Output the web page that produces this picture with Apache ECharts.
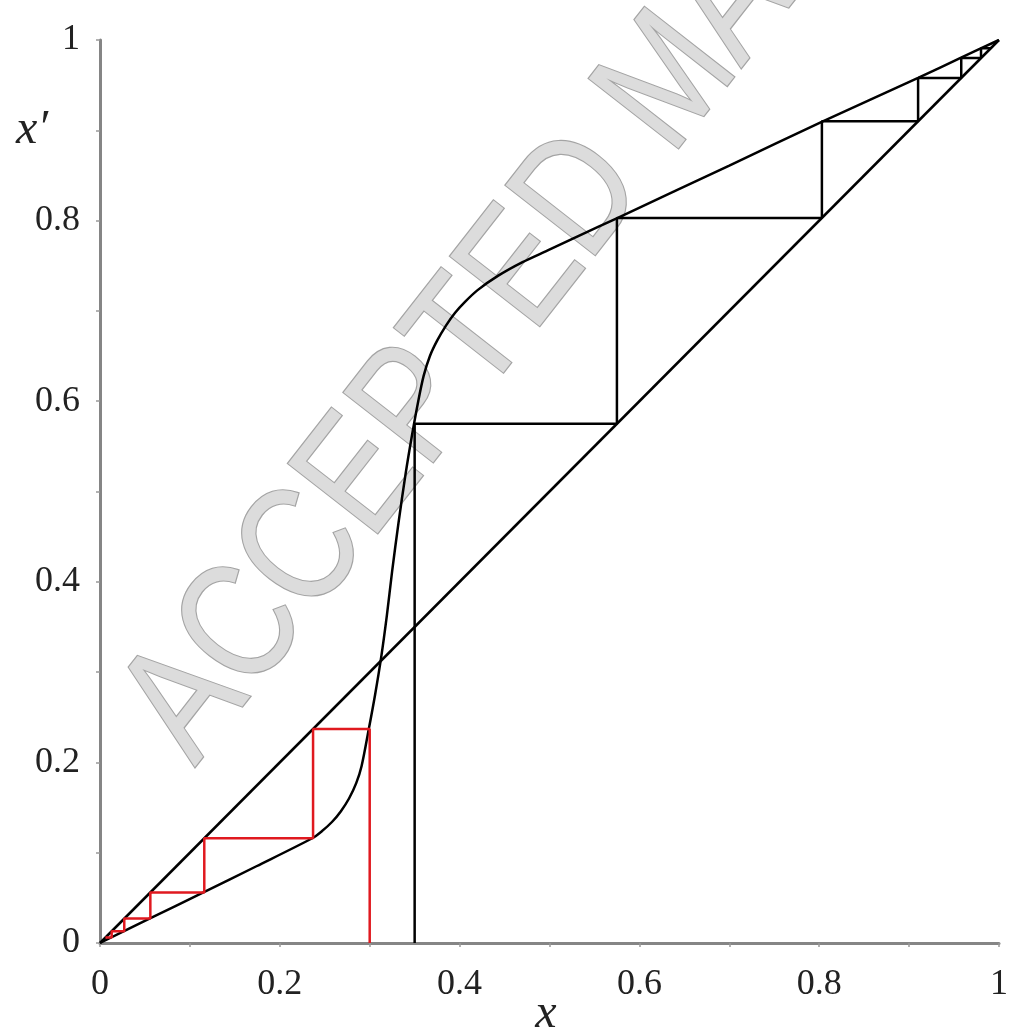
<!DOCTYPE html>
<html>
<head>
<meta charset="utf-8">
<script src="https://cdn.jsdelivr.net/npm/echarts@6/dist/echarts.min.js"></script>
<style>
  html, body { margin: 0; padding: 0; background: #fff; }
  #chart { width: 1011px; height: 1032px; }
</style>
</head>
<body>
<div id="chart"></div>
<script>
// Return map x -> x' (sampled points of the S-shaped curve)
const mapX = [0, 0.055, 0.115, 0.174, 0.236, 0.247, 0.258, 0.268, 0.277, 0.285,
              0.291, 0.299, 0.306, 0.313, 0.319, 0.325, 0.332, 0.340, 0.347, 0.354,
              0.360, 0.367, 0.375, 0.385, 0.395, 0.406, 0.420, 0.443, 0.470, 0.498,
              0.554, 0.576, 0.700, 0.804, 0.910, 0.959, 1];
const mapY = [0, 0.027, 0.056, 0.085, 0.116, 0.124, 0.134, 0.146, 0.160, 0.177,
              0.196, 0.237, 0.275, 0.318, 0.362, 0.412, 0.465, 0.520, 0.562, 0.600,
              0.628, 0.650, 0.667, 0.684, 0.698, 0.710, 0.723, 0.739, 0.754, 0.767,
              0.793, 0.803, 0.861, 0.910, 0.958, 0.981, 1];

// Cobweb iterates: orbit starting at 0.3 (red) and at 0.35 (black)
const redOrbit = [0.3, 0.237, 0.116, 0.056, 0.027, 0.013, 0.006];
const blackOrbit = [0.35, 0.575, 0.803, 0.910, 0.958, 0.980, 0.991];

// Axis tick labels
const tickValues = [0, 0.2, 0.4, 0.6, 0.8, 1];

function cobweb(orbit) {
  const pts = [[orbit[0], 0]];
  for (let i = 0; i < orbit.length - 1; i++) {
    pts.push([orbit[i], orbit[i + 1]]);
    pts.push([orbit[i + 1], orbit[i + 1]]);
  }
  return pts;
}

const curve = mapX.map((x, i) => [x, mapY[i]]);

const serif = '"Liberation Serif", "Times New Roman", Times, serif';

const axisCommon = {
  type: 'value',
  min: 0,
  max: 1,
  interval: 0.2,
  axisLine: { show: true, lineStyle: { color: '#858585', width: 3 } },
  axisTick: { show: true, length: 4, lineStyle: { color: '#999', width: 1.5 } },
  minorTick: { show: true, splitNumber: 2, length: 4, lineStyle: { color: '#999', width: 1.5 } },
  splitLine: { show: false },
  axisLabel: {
    fontFamily: serif,
    fontSize: 36,
    color: '#222',
    formatter: v => (tickValues.some(t => Math.abs(t - v) < 1e-9) ? String(+v.toFixed(1)) : '')
  }
};

const chart = echarts.init(document.getElementById('chart'), null, { renderer: 'canvas' });
chart.setOption({
  animation: false,
  backgroundColor: '#fff',
  grid: { left: 100, right: 8, top: 40, bottom: 89 },
  xAxis: Object.assign({}, axisCommon, {
    axisLabel: Object.assign({}, axisCommon.axisLabel, { margin: 24 })
  }),
  yAxis: Object.assign({}, axisCommon, {
    axisLabel: Object.assign({}, axisCommon.axisLabel, { margin: 20 })
  }),
  graphic: [
    {
      type: 'text',
      x: 224, y: 790,
      rotation: 52 * Math.PI / 180,
      scaleX: 0.82,
      z: -10,
      style: {
        text: 'ACCEPTED MANUSCRIPT',
        font: '165px "Liberation Sans", Arial, sans-serif',
        fill: '#dcdcdc',
        stroke: '#a4a4a4',
        lineWidth: 2.5,
        shadowBlur: 4,
        shadowOffsetX: 2,
        shadowOffsetY: 2,
        shadowColor: 'rgba(0,0,0,0.25)',
        textAlign: 'left',
        textVerticalAlign: 'bottom'
      }
    },
    {
      type: 'text',
      x: 32, y: 130,
      style: {
        text: 'x\u2032',
        font: 'italic 48px ' + serif,
        fill: '#222',
        textAlign: 'center',
        textVerticalAlign: 'middle'
      }
    },
    {
      type: 'text',
      x: 546, y: 1014,
      style: {
        text: 'x',
        font: 'italic 48px ' + serif,
        fill: '#222',
        textAlign: 'center',
        textVerticalAlign: 'middle'
      }
    }
  ],
  series: [
    {
      name: 'identity',
      type: 'line',
      data: [[0, 0], [1, 1]],
      showSymbol: false,
      lineStyle: { color: '#000', width: 2.5 }
    },
    {
      name: 'map',
      type: 'line',
      data: curve,
      smooth: 0.3,
      showSymbol: false,
      lineStyle: { color: '#000', width: 2.5 }
    },
    {
      name: 'orbit 0.35',
      type: 'line',
      data: cobweb(blackOrbit),
      showSymbol: false,
      lineStyle: { color: '#000', width: 2.5 }
    },
    {
      name: 'orbit 0.3',
      type: 'line',
      data: cobweb(redOrbit),
      showSymbol: false,
      lineStyle: { color: '#e0191f', width: 2.5 }
    }
  ]
});
</script>
</body>
</html>
